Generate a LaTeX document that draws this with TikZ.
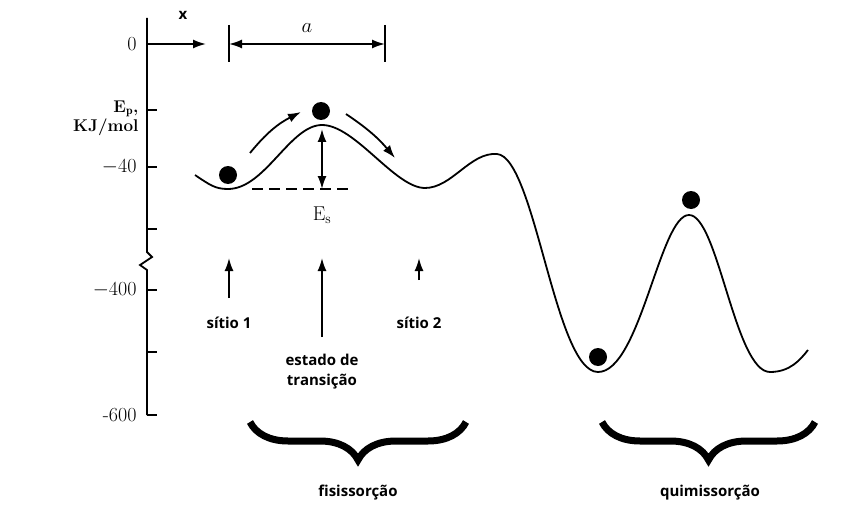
\documentclass[tikz,border=0pt]{standalone}
\usepackage{fontspec}
\newfontfamily\lab{Open Sans}
\usetikzlibrary{arrows.meta,decorations.pathreplacing}
\begin{document}
\begin{tikzpicture}[x=1pt,y=-1pt,
  ln/.style={line width=1.8pt},
  arr/.style={ln,-{Latex[length=13pt,width=9pt]}},
  ball/.style={circle,fill=black,inner sep=0pt,minimum size=18pt},
  lbl/.style={font=\lab\bfseries\fontsize{15}{20}\selectfont},
  ax/.style={font=\fontsize{20}{22}\selectfont},
  brc/.style={line width=7pt,decorate,decoration={brace,mirror,amplitude=38pt}}]
\useasboundingbox (0,0) rectangle (867,516);
% axis
\draw[ln] (147,18) -- (147,252) -- (152,257) -- (140,265) -- (147,270) -- (147,415);
\foreach \y in {44,110,167,229,290,352,415} \draw[ln] (147,\y) -- (157,\y);
\node[ax,anchor=east] (l0) at (140,44) {0};
\node[ax,anchor=east] (l40) at (140,167) {$-$40};
\node[ax,anchor=east] (l400) at (140,290) {$-$400};
\node[ax,anchor=east] (l600) at (140,415) {-600};
\node[font=\bfseries\fontsize{17}{19}\selectfont,align=right,anchor=east] (ep) at (142,118) {E$_{\mathbf p}$,\\KJ/mol};
% x arrow
\coordinate (xo) at (147,44); \coordinate (xe) at (206,44);
\draw[arr] (xo) -- (xe);
\node[lbl] (xl) at (183,15) {x};
% a dimension
\coordinate (a1) at (229,44); \coordinate (a2) at (385,44);
\draw[ln] (229,25) -- (229,62); \draw[ln] (385,25) -- (385,62);
\draw[ln,{Latex[length=13pt,width=9pt]}-{Latex[length=13pt,width=9pt]}] (a1) -- (a2);
\node[ax] (al) at (307,28) {$a$};
% curve
\draw[ln] (195,175) .. controls (210,185) and (215,189) .. (228,189)
 .. controls (265,189) and (290,125) .. (322,125)
 .. controls (355,125) and (395,188) .. (425,188)
 .. controls (452,188) and (470,152) .. (497,154)
 .. controls (535,157) and (555,372) .. (598,372)
 .. controls (640,372) and (660,215) .. (689,215)
 .. controls (718,215) and (735,372) .. (770,372)
 .. controls (790,372) and (800,360) .. (808,350);
% balls
\node[ball] (b1) at (228,175) {};
\node[ball] (b2) at (321,111) {};
\node[ball] (b3) at (598,357) {};
\node[ball] (b4) at (691,200) {};
% motion arrows
\coordinate (m1) at (250,153); \coordinate (m2) at (301,112);
\draw[arr] (m1) to[bend left=12] (m2);
\coordinate (m3) at (346,114); \coordinate (m4) at (395,158);
\draw[arr] (m3) to[bend left=8] (m4);
% Es
\coordinate (e1) at (322,129); \coordinate (e2) at (322,189);
\draw[ln,{Latex[length=13pt,width=9pt]}-{Latex[length=13pt,width=9pt]}] (e1) -- (e2);
\coordinate (d1) at (252,189); \coordinate (d2) at (350,189);
\draw[ln,dash pattern=on 11pt off 6pt] (d1) -- (d2);
\node[ax] (es) at (322,215) {E$_\mathrm{s}$};
% site arrows and labels
\node[lbl] (s1) at (229,323) {sítio 1};
\node[lbl] (s2) at (419,323) {sítio 2};
\node[lbl,align=center] (ts) at (322,372) {estado de\\transição};
\coordinate (t1) at (229,258); \coordinate (t2) at (322,258); \coordinate (t3) at (419,258);
\draw[arr] (229,298) -- (t1);
\draw[arr] (322,337) -- (t2);
\draw[arr] (419,280) -- (t3);
% braces
\draw[brc] (250,422) -- (466,422);
\draw[brc] (602,422) -- (815,422);
\node[lbl] (fis) at (358,493) {fisissorção};
\node[lbl] (qui) at (710,493) {quimissorção};
\end{tikzpicture}
\end{document}
